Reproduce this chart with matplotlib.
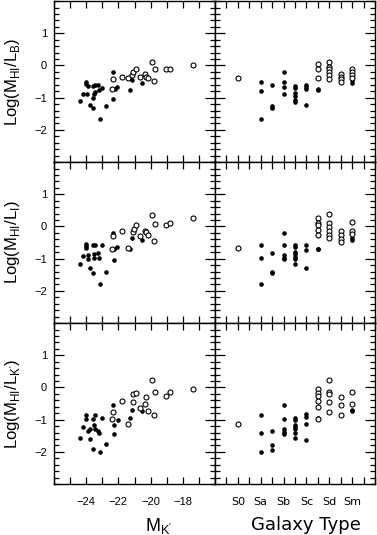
import matplotlib
matplotlib.use('Agg')
import matplotlib.pyplot as plt
from matplotlib.ticker import MultipleLocator, FixedLocator, NullFormatter

# ---- left column: HI mass-to-light ratio vs. absolute K' magnitude ----
mk_b_fill = [-24.02, -24.0, -23.86, -23.59, -23.43, -23.24, -22.99, -23.18, -23.44,
             -23.51, -23.92, -24.2, -24.41, -23.55, -23.75, -23.55, -22.78, -23.14,
             -22.35, -22.31, -22.2, -22.1, -21.28, -21.18, -20.56]
lb_fill = [-0.50, -0.58, -0.65, -0.63, -0.61, -0.60, -0.71, -0.75, -0.83,
           -0.89, -0.88, -0.88, -1.10, -1.01, -1.22, -1.31, -1.27, -1.65,
           -0.21, -1.03, -0.72, -0.67, -0.77, -0.44, -0.55]
mk_b_open = [-22.31, -22.41, -21.76, -21.39, -21.15, -21.09, -20.88, -20.68, -20.37,
             -20.31, -20.16, -19.79, -19.89, -19.71, -19.03, -18.81, -17.37]
lb_open = [-0.41, -0.74, -0.36, -0.38, -0.31, -0.21, -0.12, -0.36, -0.28,
           -0.36, -0.39, -0.49, 0.10, -0.10, -0.12, -0.12, 0.03]

mk_i_fill = [-24.02, -24.0, -24.0, -23.59, -23.44, -22.99, -24.2, -23.86, -23.86,
             -23.51, -23.24, -23.51, -23.2, -24.41, -23.75, -23.55, -22.78, -23.14,
             -22.35, -22.25, -22.11, -22.25, -21.28, -21.18, -20.56]
li_fill = [-0.53, -0.61, -0.67, -0.59, -0.56, -0.56, -0.92, -0.90, -1.00,
           -0.84, -0.82, -0.98, -0.98, -1.17, -1.29, -1.46, -1.42, -1.79,
           -0.19, -0.69, -0.64, -1.03, -0.69, -0.35, -0.41]
mk_i_open = [-22.31, -22.41, -21.76, -21.39, -21.09, -21.02, -20.88, -20.68, -20.37,
             -20.31, -20.16, -19.79, -19.89, -19.71, -19.03, -18.81, -17.37]
li_open = [-0.31, -0.69, -0.15, -0.66, -0.17, -0.07, 0.06, -0.31, -0.15,
           -0.17, -0.25, -0.46, 0.37, 0.08, 0.05, 0.11, 0.26]

mk_k_fill = [-23.99, -24.02, -23.44, -23.59, -22.99, -24.2, -23.86, -23.75, -23.51,
             -23.44, -23.24, -23.2, -24.41, -23.75, -23.55, -23.14, -22.78, -22.35,
             -22.25, -22.04, -22.25, -21.28, -21.18, -20.56]
lk_fill = [-0.86, -0.99, -0.84, -0.99, -0.94, -1.22, -1.35, -1.30, -1.18,
           -1.28, -1.35, -1.40, -1.58, -1.61, -1.92, -2.0, -1.77, -0.55,
           -1.18, -1.02, -1.43, -0.94, -0.69, -0.74]
mk_k_open = [-22.31, -22.41, -21.76, -21.39, -21.12, -21.09, -20.88, -20.68, -20.37,
             -20.31, -20.16, -19.79, -19.89, -19.71, -19.03, -18.81, -17.37]
lk_open = [-0.76, -0.97, -0.43, -1.12, -0.44, -0.19, -0.17, -0.63, -0.51,
           -0.30, -0.72, -0.86, 0.24, -0.15, -0.26, -0.15, -0.04]

# ---- right column: same ratios vs. morphological type ----
type_names = ['S0', 'Sa', 'Sb', 'Sc', 'Sd', 'Sm']
type_codes = [-1, 1, 3, 5, 7, 9]

t_b_fill = [1, 1, 1, 2, 2, 2, 3, 3, 3, 3, 4, 4, 4, 4, 4, 4, 5, 5, 5, 5, 6, 6, 9, 9]
tb_fill = [-0.50, -0.80, -1.65, -0.60, -1.27, -1.32, -0.21, -0.52, -0.67, -0.88,
           -0.64, -0.70, -0.86, -0.96, -1.06, -1.14, -0.60, -0.67, -0.74, -1.22,
           -0.73, -0.76, -0.46, -0.55]
t_b_open = [-1, 6, 6, 6, 7, 7, 7, 7, 7, 7, 8, 8, 8, 8, 9, 9, 9, 9]
tb_open = [-0.38, 0.05, -0.12, -0.38, 0.10, -0.05, -0.12, -0.21, -0.31, -0.43,
           -0.28, -0.36, -0.43, -0.50, -0.10, -0.21, -0.29, -0.38]

t_i_fill = [1, 1, 1, 2, 2, 2, 3, 3, 3, 3, 3, 4, 4, 4, 4, 4, 4, 4, 5, 5, 5, 6, 6, 9, 9]
ti_fill = [-0.56, -0.98, -1.80, -0.82, -1.41, -1.46, -0.19, -0.57, -0.90, -0.97, -1.02,
           -0.56, -0.64, -0.79, -0.87, -0.95, -1.02, -1.18, -0.56, -0.72, -1.29,
           -0.69, -0.71, -0.35, -0.41]
t_i_open = [-1, 6, 6, 6, 6, 6, 7, 7, 7, 7, 7, 7, 8, 8, 8, 8, 9, 9, 9]
ti_open = [-0.67, 0.27, 0.11, 0.06, -0.12, -0.25, 0.39, 0.10, -0.02, -0.15, -0.25, -0.35,
           -0.15, -0.28, -0.38, -0.48, 0.13, -0.15, -0.22]

t_k_fill = [1, 1, 1, 2, 2, 2, 3, 3, 3, 3, 3, 4, 4, 4, 4, 4, 4, 4, 5, 5, 5, 5, 6, 9, 9]
tk_fill = [-0.86, -1.40, -2.0, -1.35, -1.78, -1.94, -0.55, -0.99, -1.30, -1.37, -1.43,
           -0.94, -1.02, -1.15, -1.22, -1.30, -1.42, -1.58, -0.82, -0.92, -1.13, -1.63,
           -0.94, -0.71, -0.74]
t_k_open = [-1, 6, 6, 6, 6, 6, 6, 7, 7, 7, 7, 7, 8, 8, 8, 9, 9]
tk_open = [-1.12, -0.04, -0.17, -0.26, -0.41, -0.62, -0.97, 0.24, -0.15, -0.20, -0.45,
           -0.76, -0.31, -0.53, -0.86, -0.15, -0.51]

ylabels = [r'Log(M$_\mathregular{HI}$/L$_\mathregular{B}$)',
           r'Log(M$_\mathregular{HI}$/L$_\mathregular{I}$)',
           r"Log(M$_\mathregular{HI}$/L$_\mathregular{K'}$)"]

left_data = [(mk_b_fill, lb_fill, mk_b_open, lb_open),
             (mk_i_fill, li_fill, mk_i_open, li_open),
             (mk_k_fill, lk_fill, mk_k_open, lk_open)]
right_data = [(t_b_fill, tb_fill, t_b_open, tb_open),
              (t_i_fill, ti_fill, t_i_open, ti_open),
              (t_k_fill, tk_fill, t_k_open, tk_open)]

plt.rcParams['font.family'] = ['Liberation Sans', 'DejaVu Sans']

W, H = 377, 535
fig = plt.figure(figsize=(W / 100, H / 100), dpi=100)

def style(ax):
    for s in ax.spines.values():
        s.set_linewidth(1.0)
    ax.set_ylim(-3, 2)
    ax.yaxis.set_major_locator(FixedLocator([-2, -1, 0, 1]))
    ax.yaxis.set_minor_locator(MultipleLocator(0.2))
    ax.tick_params(which='both', direction='in', top=True, right=True, width=0.9)
    ax.tick_params(axis='y', which='major', length=7)
    ax.tick_params(axis='y', which='minor', length=3.5)
    ax.tick_params(axis='x', which='both', length=5)
    ax.tick_params(labelsize=8)

def scatter(ax, xf, yf, xo, yo):
    ax.plot(xf, yf, 'o', color='black', ms=3.3, mew=0)
    ax.plot(xo, yo, 'o', mfc='white', mec='black', ms=3.6, mew=0.8)

row_h = 161 / H
for r in range(3):
    bottom = 1 - (r + 1) * 161 / H - 0.002
    axl = fig.add_axes([54 / W, bottom, 161 / W, row_h])
    axr = fig.add_axes([215 / W, bottom, 160 / W, row_h])

    scatter(axl, *left_data[r])
    style(axl)
    axl.set_xlim(-26, -16)
    axl.xaxis.set_major_locator(FixedLocator([-24, -22, -20, -18]))
    axl.xaxis.set_minor_locator(MultipleLocator(1))
    axl.tick_params(axis='y', pad=5)
    axl.set_ylabel(ylabels[r], fontsize=12)
    axl.yaxis.set_label_coords(-0.2, 0.5)

    scatter(axr, *right_data[r])
    style(axr)
    axr.set_xlim(-3, 11)
    axr.xaxis.set_major_locator(FixedLocator(type_codes))
    axr.xaxis.set_minor_locator(MultipleLocator(1))
    axr.set_xticklabels(type_names, family='DejaVu Sans')
    axr.yaxis.set_major_formatter(NullFormatter())

    if r < 2:
        axl.xaxis.set_major_formatter(NullFormatter())
        axr.xaxis.set_major_formatter(NullFormatter())
    else:
        axl.tick_params(axis='x', pad=9)
        axr.tick_params(axis='x', pad=9)
        axl.set_xlabel(r"M$_\mathregular{K'}$", fontsize=13)
        axl.xaxis.set_label_coords(0.65, -0.2)
        axr.set_xlabel('Galaxy Type', fontsize=13, family='DejaVu Sans')
        axr.xaxis.set_label_coords(0.57, -0.2)

fig.savefig('out.png', dpi=100)
